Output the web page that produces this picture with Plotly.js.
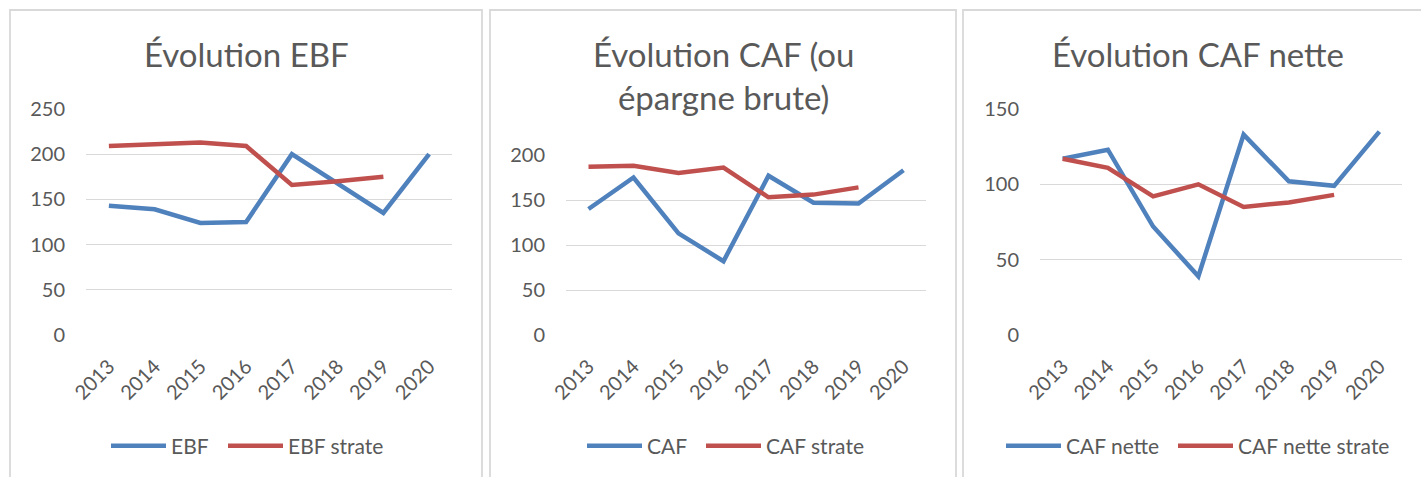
<!DOCTYPE html>
<html>
<head>
<meta charset="utf-8">
<script src="https://cdn.plot.ly/plotly-3.0.1.min.js"></script>
<style>html,body{margin:0;padding:0;background:#fff;}#chart{width:1421px;height:477px;}</style>
</head>
<body>
<div id="chart"></div>
<script>
// ---- data ----
const years = ["2013","2014","2015","2016","2017","2018","2019","2020"];

const titleEBF = "Évolution EBF";
const titleCAF = "Évolution CAF (ou<br>épargne brute)";
const titleCAFnette = "Évolution CAF nette";

const nameEBF = "EBF";
const nameEBFstrate = "EBF strate";
const ebf = [143, 139, 124, 125, 200, 168, 135, 200];
const ebfStrate = [209, 211, 213, 209, 166, 170, 175, null];

const nameCAF = "CAF";
const nameCAFstrate = "CAF strate";
const caf = [140, 175, 113, 82, 177, 147, 146, 183];
const cafStrate = [187, 188, 180, 186, 153, 156, 164, null];

const nameCAFnette = "CAF nette";
const nameCAFnetteStrate = "CAF nette strate";
const cafNette = [117, 123, 72, 39, 133, 102, 99, 135];
const cafNetteStrate = [117, 111, 92, 100, 85, 88, 93, null];

const yTicks1 = [0, 50, 100, 150, 200, 250];
const yTicks2 = [0, 50, 100, 150, 200];
const yTicks3 = [0, 50, 100, 150];

// ---- style ----
const W = 1421, H = 477;
const FONT = "Lato, 'Open Sans', sans-serif";
const TXT = "#595959";
const GRID = "#d9d9d9";
const BLUE = "#4F81BD";
const RED = "#C0504D";
const ITEMW = 55;
const px = v => v / W;
const py = v => 1 - v / H;

function line(x, y, name, color, xa, ya, leg) {
  return {x: x, y: y, name: name, type: "scatter", mode: "lines",
    line: {color: color, width: 4.5}, xaxis: xa, yaxis: ya, legend: leg,
    connectgaps: false, hoverinfo: "skip"};
}

const data = [
  line(years, ebf, nameEBF, BLUE, "x", "y", "legend"),
  line(years, ebfStrate, nameEBFstrate, RED, "x", "y", "legend2"),
  line(years, caf, nameCAF, BLUE, "x2", "y2", "legend3"),
  line(years, cafStrate, nameCAFstrate, RED, "x2", "y2", "legend4"),
  line(years, cafNette, nameCAFnette, BLUE, "x3", "y3", "legend5"),
  line(years, cafNetteStrate, nameCAFnetteStrate, RED, "x3", "y3", "legend6")
];

function xax(x0, x1, anchor) {
  return {domain: [px(x0), px(x1)], anchor: anchor, type: "category",
    range: [-0.5, 7.5], tickangle: -45, showgrid: false, zeroline: false,
    showline: false, ticks: "", ticklabelstandoff: 15,
    tickfont: {family: FONT, size: 20, color: TXT}, fixedrange: true};
}
function yax(y0, y1, range, tv, anchor) {
  return {domain: [py(y1), py(y0)], anchor: anchor, range: range,
    tickvals: tv, showgrid: true, gridcolor: GRID, gridwidth: 1,
    zeroline: false, showline: false, ticks: "", ticklabelstandoff: 20,
    tickfont: {family: FONT, size: 20, color: TXT}, fixedrange: true};
}

function leg(textX) {
  return {orientation: "h", x: px(textX - ITEMW - 10), y: py(446), xanchor: "left", yanchor: "middle",
    font: {family: FONT, size: 21, color: TXT}, bgcolor: "rgba(0,0,0,0)",
    itemwidth: ITEMW, borderwidth: 0, itemclick: false, itemdoubleclick: false};
}

function ttl(text, x, y) {
  return {text: text, x: px(x), y: py(y), xref: "paper", yref: "paper",
    xanchor: "center", yanchor: "top", showarrow: false,
    font: {family: FONT, size: 33, color: TXT}};
}

function border(x0, x1) {
  return {type: "rect", xref: "paper", yref: "paper",
    x0: px(x0), x1: px(x1), y0: py(495), y1: py(10),
    line: {color: GRID, width: 1.8}, fillcolor: "rgba(0,0,0,0)", layer: "below"};
}

const layout = {
  width: W, height: H,
  margin: {l: 0, r: 0, t: 0, b: 0},
  paper_bgcolor: "#fff", plot_bgcolor: "#fff",
  font: {family: FONT, color: TXT},
  showlegend: true,
  xaxis: xax(86, 452, "y"),
  yaxis: yax(109, 335, [0, 250], yTicks1, "x"),
  xaxis2: xax(566, 926, "y2"),
  yaxis2: yax(155, 335, [0, 200], yTicks2, "x2"),
  xaxis3: xax(1040, 1402, "y3"),
  yaxis3: yax(109, 335, [0, 150], yTicks3, "x3"),
  legend: leg(171),
  legend2: leg(288),
  legend3: leg(647),
  legend4: leg(766),
  legend5: leg(1066),
  legend6: leg(1238),
  annotations: [
    ttl(titleEBF, 246, 32),
    ttl(titleCAF, 723, 32),
    ttl(titleCAFnette, 1198, 32)
  ],
  shapes: [border(10, 482), border(490, 956), border(963, 1440)]
};

Plotly.newPlot("chart", data, layout, {staticPlot: true, displayModeBar: false});
</script>
</body>
</html>
